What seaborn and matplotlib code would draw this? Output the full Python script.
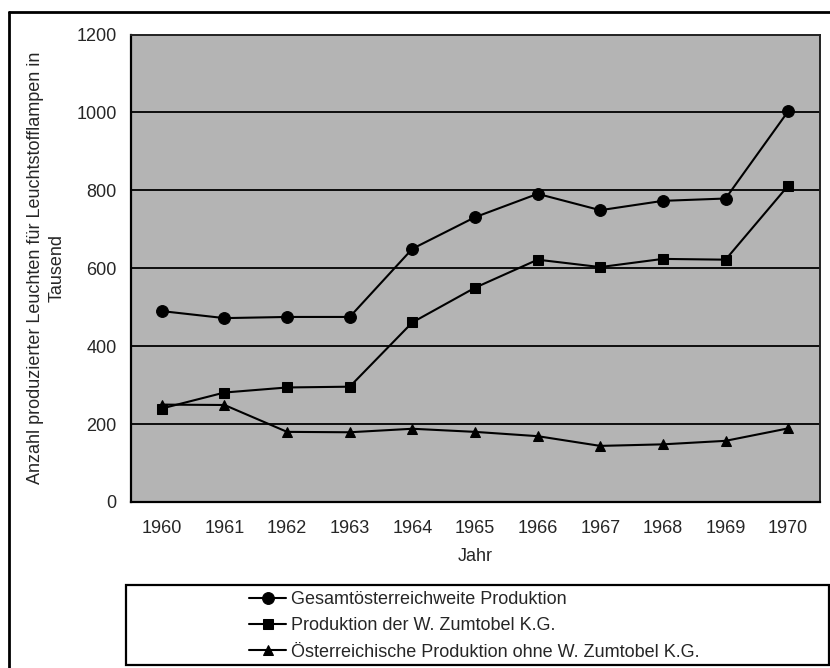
import matplotlib
matplotlib.use("Agg")
import matplotlib.pyplot as plt
from matplotlib.lines import Line2D
from matplotlib.patches import Rectangle
import seaborn as sns
import pandas as pd

years = ["1960", "1961", "1962", "1963", "1964", "1965", "1966", "1967", "1968", "1969", "1970"]
gesamt = [490, 472, 475, 475, 650, 731, 791, 749, 773, 779, 1003]
zumtobel = [240, 281, 294, 296, 461, 550, 622, 603, 624, 622, 812]
ohne = [250, 249, 180, 179, 188, 180, 169, 144, 148, 157, 189]
series_names = ["Gesamtösterreichweite Produktion",
                "Produktion der W. Zumtobel K.G.",
                "Österreichische Produktion ohne W. Zumtobel K.G."]
y_ticks = [0, 200, 400, 600, 800, 1000, 1200]

rows = []
for name, vals in zip(series_names, [gesamt, zumtobel, ohne]):
    for i, (yr, v) in enumerate(zip(years, vals)):
        rows.append({"pos": i, "Jahr": yr, "value": v, "series": name})
df = pd.DataFrame(rows)

sns.set_style("white")
plt.rcParams['font.family'] = ['Liberation Sans', 'DejaVu Sans']
FS = 13

W, H = 830, 668
fig = plt.figure(figsize=(W / 100, H / 100), dpi=100)
L, R, T, B = 130.5, 819.5, 34.5, 502
ax = fig.add_axes([L / W, (H - B) / H, (R - L) / W, (B - T) / H])
ax.set_facecolor("#b4b4b4")

markers = {series_names[0]: "o", series_names[1]: "s", series_names[2]: "^"}
sizes = {series_names[0]: 8.5, series_names[1]: 6.5, series_names[2]: 7.5}
sns.lineplot(data=df, x="pos", y="value", style="series", markers=markers,
             dashes=False, color="black", linewidth=1.5, markersize=7.5,
             markeredgecolor="black", ax=ax, legend=True)
for ln, name in zip(ax.lines[:3], series_names):
    ln.set_markersize(sizes[name])
    ln.set_markerfacecolor("black")

ax.set_xlim(-0.5, len(years) - 0.5)
ax.set_ylim(0, 1200)
ax.set_yticks(y_ticks)
ax.set_yticklabels([str(t) for t in y_ticks], fontsize=FS)
ax.set_xticks(range(len(years)))
ax.set_xticklabels(years, fontsize=FS)
ax.tick_params(axis="x", length=0, pad=13)
ax.set_xticks([i - 0.5 for i in range(len(years) + 1)], minor=True)
ax.tick_params(axis="x", which="minor", length=6, width=1.5, direction="out", color="black")
ax.tick_params(axis="y", length=6, width=1.5, direction="out", color="black", pad=4)
for t in y_ticks[1:-1]:
    ax.axhline(t, color="black", linewidth=1.3, zorder=1)
for s in ["left", "bottom"]:
    ax.spines[s].set_color("black")
    ax.spines[s].set_linewidth(1.6)
for s in ["top", "right"]:
    ax.spines[s].set_color("#222222")
    ax.spines[s].set_linewidth(1.4)

ax.set_xlabel("Jahr", fontsize=FS, labelpad=8)
ax.set_ylabel("Anzahl produzierter Leuchten für Leuchtstofflampen in\nTausend",
              fontsize=FS, labelpad=8, linespacing=1.35)

handles, labels = ax.get_legend_handles_labels()
ax.get_legend().remove()
hmap = dict(zip(labels, handles))
hs = [hmap[n] for n in series_names]
for h, n in zip(hs, series_names):
    h.set_markersize(sizes[n])
    h.set_markerfacecolor("black")
    h.set_color("black")
    h.set_linewidth(1.5)

# legend box
bx0, bx1, by0, by1 = 126, 829, 585, 665
fig.patches.append(Rectangle((bx0 / W, (H - by1) / H), (bx1 - bx0) / W, (by1 - by0) / H,
                             transform=fig.transFigure, fill=False,
                             edgecolor="black", linewidth=1.6))
fig.legend(hs, series_names, loc="center",
           bbox_to_anchor=((bx0 + bx1) / 2 / W - 3 / W, (H - (by0 + by1) / 2 - 1) / H),
           frameon=False, fontsize=FS, handlelength=2.0, handletextpad=0.3,
           labelspacing=0.5, borderpad=0)

# outer frame (left and top)
fig.add_artist(Line2D([8.5 / W, 8.5 / W], [0, (H - 12) / H], transform=fig.transFigure,
                      color="black", linewidth=2))
fig.add_artist(Line2D([8.5 / W, 1], [(H - 12) / H, (H - 12) / H], transform=fig.transFigure,
                      color="black", linewidth=2))

fig.savefig("out.png", dpi=100)
